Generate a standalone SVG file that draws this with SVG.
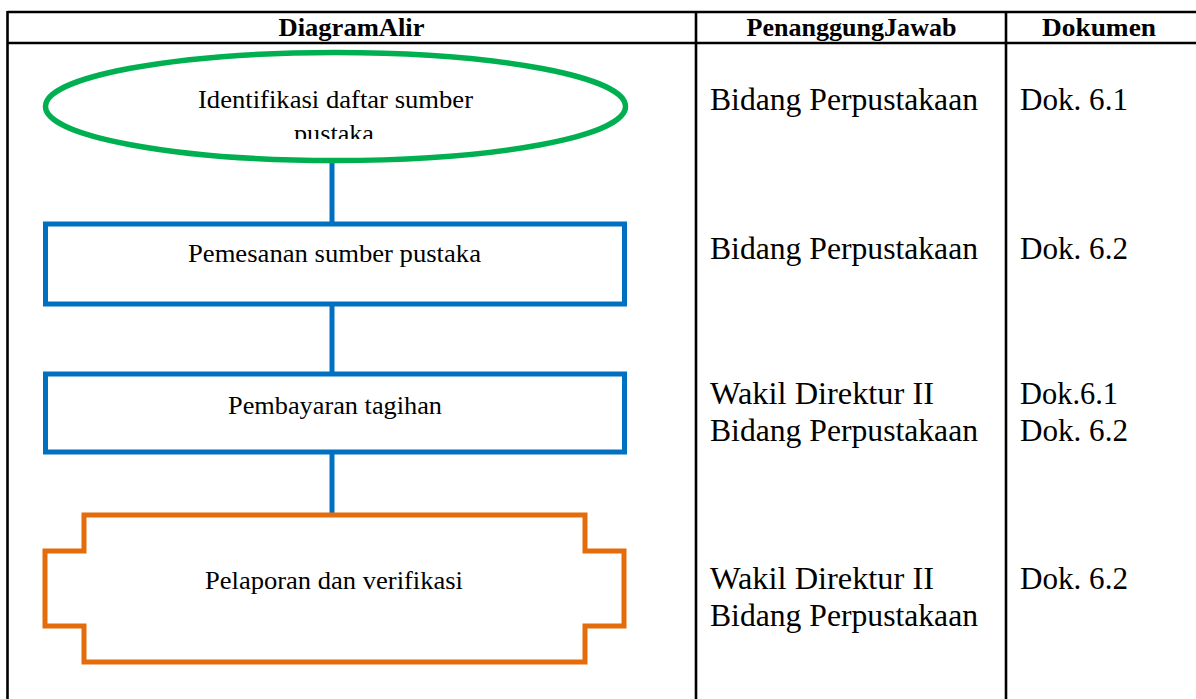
<svg xmlns="http://www.w3.org/2000/svg" width="1196" height="699" viewBox="0 0 1196 699">
<style>
.grid{stroke:#000;stroke-width:2.6;fill:none}
.hd{font-family:"Liberation Serif","Tinos","Times New Roman",serif;font-weight:bold;font-size:26px;fill:#000}
.lt{font-family:"Liberation Serif","Tinos","Times New Roman",serif;font-size:25.5px;fill:#000}
.rt{font-family:"Liberation Serif","Tinos","Times New Roman",serif;font-size:31.5px;fill:#000}
.blue{fill:#fff;stroke:#0070C0;stroke-width:5}
.conn{stroke:#0070C0;stroke-width:5;fill:none}
</style>
<defs>
<clipPath id="elClip"><rect x="40" y="40" width="600" height="99"/></clipPath>
</defs>
<rect width="1196" height="699" fill="#fff"/>
<g id="table">
<line class="grid" x1="7.5" y1="12" x2="1196" y2="12"/>
<line class="grid" x1="7.5" y1="43" x2="1196" y2="43"/>
<line class="grid" x1="7.5" y1="11" x2="7.5" y2="699"/>
<line class="grid" x1="696" y1="11" x2="696" y2="699"/>
<line class="grid" x1="1006" y1="11" x2="1006" y2="699"/>
<text class="hd" x="351.5" y="36" text-anchor="middle" textLength="146" lengthAdjust="spacingAndGlyphs">DiagramAlir</text>
<text class="hd" x="851.5" y="36" text-anchor="middle" textLength="210" lengthAdjust="spacingAndGlyphs">PenanggungJawab</text>
<text class="hd" x="1099" y="36" text-anchor="middle" textLength="114" lengthAdjust="spacingAndGlyphs">Dokumen</text>
</g>
<g id="connectors">
<line class="conn" x1="332" y1="160" x2="332" y2="224"/>
<line class="conn" x1="332" y1="303" x2="332" y2="374"/>
<line class="conn" x1="332" y1="451" x2="332" y2="515"/>
</g>
<g id="n1">
<ellipse cx="335.5" cy="106.5" rx="290" ry="54" fill="#fff" stroke="#00B050" stroke-width="5.5"/>
<g clip-path="url(#elClip)">
<text class="lt" x="335.5" y="108" text-anchor="middle" textLength="275" lengthAdjust="spacingAndGlyphs">Identifikasi daftar sumber</text>
<text class="lt" x="334" y="142" text-anchor="middle" textLength="80" lengthAdjust="spacingAndGlyphs">pustaka</text>
</g>
</g>
<g id="n2">
<rect class="blue" x="45.5" y="224" width="579" height="80"/>
<text class="lt" x="334.5" y="262" text-anchor="middle" textLength="293" lengthAdjust="spacingAndGlyphs">Pemesanan sumber pustaka</text>
</g>
<g id="n3">
<rect class="blue" x="45.5" y="374" width="579" height="78"/>
<text class="lt" x="335" y="414" text-anchor="middle" textLength="214" lengthAdjust="spacingAndGlyphs">Pembayaran tagihan</text>
</g>
<g id="n4">
<path d="M84,515 H585 V551 H624 V626 H585 V662 H84 V626 H45 V551 H84 Z" fill="#fff" stroke="#E46C0A" stroke-width="5"/>
<text class="lt" x="334" y="589" text-anchor="middle" textLength="258" lengthAdjust="spacingAndGlyphs">Pelaporan dan verifikasi</text>
</g>
<g id="col2">
<text class="rt" x="710" y="110" textLength="268" lengthAdjust="spacingAndGlyphs">Bidang Perpustakaan</text>
<text class="rt" x="710" y="259" textLength="268" lengthAdjust="spacingAndGlyphs">Bidang Perpustakaan</text>
<text class="rt" x="710" y="404" textLength="224" lengthAdjust="spacingAndGlyphs">Wakil Direktur II</text>
<text class="rt" x="710" y="441" textLength="268" lengthAdjust="spacingAndGlyphs">Bidang Perpustakaan</text>
<text class="rt" x="710" y="589" textLength="224" lengthAdjust="spacingAndGlyphs">Wakil Direktur II</text>
<text class="rt" x="710" y="626" textLength="268" lengthAdjust="spacingAndGlyphs">Bidang Perpustakaan</text>
</g>
<g id="col3">
<text class="rt" x="1020" y="110" textLength="108" lengthAdjust="spacingAndGlyphs">Dok. 6.1</text>
<text class="rt" x="1020" y="259" textLength="108" lengthAdjust="spacingAndGlyphs">Dok. 6.2</text>
<text class="rt" x="1020" y="404" textLength="98" lengthAdjust="spacingAndGlyphs">Dok.6.1</text>
<text class="rt" x="1020" y="441" textLength="108" lengthAdjust="spacingAndGlyphs">Dok. 6.2</text>
<text class="rt" x="1020" y="589" textLength="108" lengthAdjust="spacingAndGlyphs">Dok. 6.2</text>
</g>
</svg>
